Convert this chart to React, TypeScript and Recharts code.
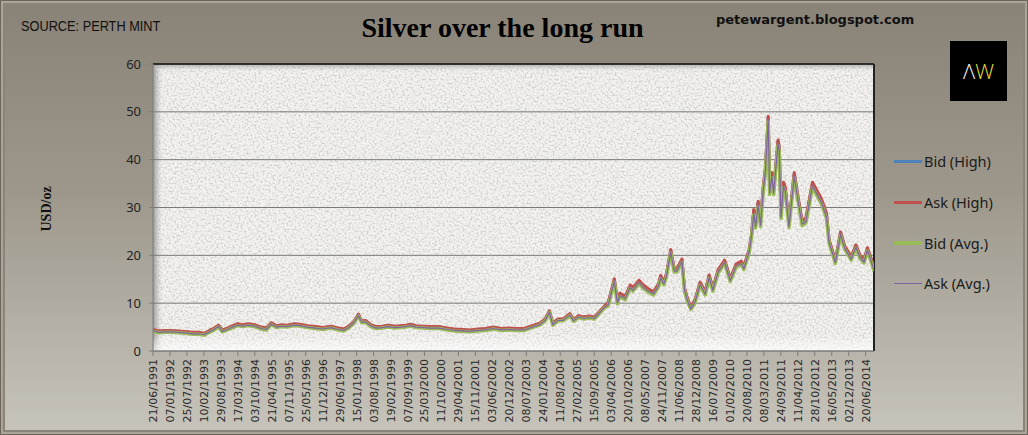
import React from 'react';
import { LineChart, Line, XAxis, YAxis, CartesianGrid, ReferenceLine } from 'recharts';

// observation dates (dd/mm/yyyy)
const dates = [
  '21/06/1991', '01/09/1991', '01/11/1991', '15/01/1992', '15/04/1992', '01/07/1992', '01/10/1992', '15/12/1992', '15/02/1993', '15/04/1993',
  '01/06/1993', '01/08/1993', '15/09/1993', '15/11/1993', '15/01/1994', '15/03/1994', '15/05/1994', '15/07/1994', '01/10/1994', '15/12/1994',
  '15/02/1995', '15/04/1995', '15/06/1995', '15/08/1995', '15/10/1995', '15/01/1996', '15/03/1996', '15/06/1996', '15/09/1996', '15/12/1996',
  '15/03/1997', '15/06/1997', '15/08/1997', '15/10/1997', '15/12/1997', '05/02/1998', '15/03/1998', '01/05/1998', '01/07/1998', '01/09/1998',
  '15/11/1998', '15/01/1999', '15/04/1999', '15/06/1999', '15/08/1999', '15/10/1999', '15/12/1999', '15/03/2000', '15/06/2000', '15/09/2000',
  '15/12/2000', '15/03/2001', '15/06/2001', '15/09/2001', '15/12/2001', '15/03/2002', '15/06/2002', '15/09/2002', '15/12/2002', '15/03/2003',
  '15/06/2003', '15/09/2003', '15/12/2003', '15/02/2004', '05/04/2004', '15/05/2004', '15/07/2004', '15/09/2004', '01/12/2004', '15/01/2005',
  '15/03/2005', '15/05/2005', '15/07/2005', '15/09/2005', '15/11/2005', '15/01/2006', '01/03/2006', '10/05/2006', '15/06/2006', '15/07/2006',
  '15/09/2006', '15/11/2006', '15/12/2006', '25/02/2007', '15/04/2007', '15/06/2007', '15/08/2007', '15/10/2007', '07/11/2007', '15/12/2007',
  '15/01/2008', '05/03/2008', '15/04/2008', '15/05/2008', '15/07/2008', '15/08/2008', '15/09/2008', '28/10/2008', '15/12/2008', '15/02/2009',
  '15/04/2009', '01/06/2009', '15/07/2009', '15/09/2009', '01/12/2009', '05/02/2010', '15/04/2010', '15/06/2010', '15/07/2010', '15/09/2010',
  '15/10/2010', '09/11/2010', '30/11/2010', '31/12/2010', '28/01/2011', '28/02/2011', '25/03/2011', '28/04/2011', '15/05/2011', '10/06/2011',
  '01/07/2011', '22/08/2011', '05/09/2011', '26/09/2011', '25/10/2011', '15/11/2011', '29/12/2011', '29/02/2012', '15/04/2012', '01/06/2012',
  '15/07/2012', '01/10/2012', '15/11/2012', '15/01/2013', '15/03/2013', '15/04/2013', '28/06/2013', '28/08/2013', '15/10/2013', '31/12/2013',
  '25/02/2014', '15/04/2014', '01/06/2014', '10/07/2014', '15/08/2014', '26/09/2014',
];

const bidHigh = [
  4.4, 4.1, 4.2, 4.2, 4.1, 4.0, 3.8, 3.8, 3.6, 4.2, 4.6, 5.3, 4.3, 4.7, 5.2, 5.6, 5.4, 5.6, 5.4, 4.9,
  4.7, 5.8, 5.2, 5.4, 5.3, 5.6, 5.5, 5.2, 5.0, 4.8, 5.1, 4.7, 4.5, 5.1, 6.1, 7.6, 6.2, 6.3, 5.4, 5.0,
  5.1, 5.3, 5.1, 5.2, 5.3, 5.5, 5.2, 5.1, 5.0, 5.0, 4.7, 4.5, 4.4, 4.3, 4.5, 4.6, 4.9, 4.6, 4.7, 4.6,
  4.6, 5.2, 5.7, 6.6, 8.3, 5.7, 6.6, 6.6, 7.7, 6.5, 7.3, 7.0, 7.2, 7.0, 8.1, 9.3, 10.0, 14.9, 10.4, 11.9,
  11.2, 13.6, 13.0, 14.6, 13.6, 12.8, 12.2, 13.9, 15.6, 14.3, 16.0, 21.0, 17.0, 17.0, 19.0, 13.0, 11.0, 9.0, 10.5, 14.2,
  12.2, 15.7, 13.0, 16.8, 18.8, 15.0, 18.0, 18.6, 17.5, 21.0, 24.5, 29.3, 26.5, 31.0, 26.8, 34.0, 37.8, 48.8, 33.5, 37.0,
  33.5, 43.8, 42.5, 28.5, 35.0, 34.0, 26.6, 37.0, 31.8, 27.0, 27.5, 35.0, 33.5, 31.5, 28.5, 23.0, 18.8, 24.7, 21.8, 19.5,
  22.0, 19.8, 18.9, 21.4, 19.6, 17.2,
];

const askHigh = [
  4.5, 4.2, 4.3, 4.3, 4.2, 4.1, 3.9, 3.9, 3.7, 4.3, 4.7, 5.4, 4.4, 4.8, 5.3, 5.7, 5.5, 5.7, 5.5, 5.0,
  4.8, 5.9, 5.3, 5.5, 5.4, 5.7, 5.6, 5.3, 5.1, 4.9, 5.2, 4.8, 4.6, 5.2, 6.2, 7.7, 6.3, 6.4, 5.5, 5.1,
  5.2, 5.4, 5.2, 5.3, 5.4, 5.6, 5.3, 5.2, 5.1, 5.1, 4.8, 4.6, 4.5, 4.4, 4.6, 4.7, 5.0, 4.7, 4.8, 4.7,
  4.7, 5.3, 5.8, 6.7, 8.4, 5.8, 6.7, 6.7, 7.8, 6.6, 7.4, 7.1, 7.3, 7.1, 8.2, 9.4, 10.2, 15.1, 10.6, 12.1,
  11.4, 13.8, 13.2, 14.8, 13.8, 13.0, 12.4, 14.1, 15.8, 14.5, 16.2, 21.2, 17.2, 17.2, 19.2, 13.2, 11.2, 9.1, 10.7, 14.4,
  12.4, 15.9, 13.2, 17.0, 19.0, 15.2, 18.2, 18.8, 17.7, 21.2, 24.7, 29.6, 26.8, 31.3, 27.1, 34.3, 38.1, 49.1, 33.8, 37.3,
  33.8, 44.1, 42.8, 28.8, 35.3, 34.3, 26.9, 37.3, 32.1, 27.3, 27.8, 35.3, 33.8, 31.8, 28.8, 23.2, 19.0, 24.9, 22.0, 19.7,
  22.2, 20.0, 19.1, 21.6, 19.8, 17.4,
];

const bidAvg = [
  4.1, 3.8, 3.9, 3.9, 3.8, 3.7, 3.5, 3.5, 3.3, 3.9, 4.3, 5.0, 4.0, 4.4, 4.9, 5.3, 5.1, 5.3, 5.1, 4.6,
  4.4, 5.5, 4.9, 5.1, 5.0, 5.3, 5.2, 4.9, 4.7, 4.5, 4.8, 4.4, 4.2, 4.8, 5.8, 7.3, 5.9, 6.0, 5.1, 4.7,
  4.8, 5.0, 4.8, 4.9, 5.0, 5.2, 4.9, 4.8, 4.7, 4.7, 4.4, 4.2, 4.1, 4.0, 4.2, 4.3, 4.6, 4.3, 4.4, 4.3,
  4.3, 4.9, 5.4, 6.3, 8.0, 5.4, 6.3, 6.3, 7.4, 6.2, 7.0, 6.7, 6.9, 6.7, 7.8, 9.0, 9.5, 14.4, 9.9, 11.4,
  10.7, 13.1, 12.5, 14.1, 13.1, 12.3, 11.7, 13.4, 15.1, 13.8, 15.5, 20.5, 16.5, 16.5, 18.5, 12.5, 10.5, 8.7, 10.0, 13.7,
  11.7, 15.2, 12.5, 16.3, 18.3, 14.5, 17.5, 18.1, 17.0, 20.5, 24.0, 28.5, 25.7, 30.2, 26.0, 33.2, 37.0, 48.0, 32.7, 36.2,
  32.7, 43.0, 41.7, 27.7, 34.2, 33.2, 25.8, 36.2, 31.0, 26.2, 26.7, 34.2, 32.7, 30.7, 27.7, 22.5, 18.3, 24.2, 21.3, 19.0,
  21.5, 19.3, 18.4, 20.9, 19.1, 16.7,
];

const askAvg = [
  4.2, 3.9, 4.0, 4.0, 3.9, 3.8, 3.6, 3.6, 3.4, 4.0, 4.4, 5.1, 4.1, 4.5, 5.0, 5.4, 5.2, 5.4, 5.2, 4.7,
  4.5, 5.6, 5.0, 5.2, 5.1, 5.4, 5.3, 5.0, 4.8, 4.6, 4.9, 4.5, 4.3, 4.9, 5.9, 7.4, 6.0, 6.1, 5.2, 4.8,
  4.9, 5.1, 4.9, 5.0, 5.1, 5.3, 5.0, 4.9, 4.8, 4.8, 4.5, 4.3, 4.2, 4.1, 4.3, 4.4, 4.7, 4.4, 4.5, 4.4,
  4.4, 5.0, 5.5, 6.4, 8.1, 5.5, 6.4, 6.4, 7.5, 6.3, 7.1, 6.8, 7.0, 6.8, 7.9, 9.1, 9.7, 14.6, 10.1, 11.6,
  10.9, 13.3, 12.7, 14.3, 13.3, 12.5, 11.9, 13.6, 15.3, 14.0, 15.7, 20.7, 16.7, 16.7, 18.7, 12.7, 10.7, 8.8, 10.2, 13.9,
  11.9, 15.4, 12.7, 16.5, 18.5, 14.7, 17.7, 18.3, 17.2, 20.7, 24.2, 28.8, 26.0, 30.5, 26.3, 33.5, 37.3, 48.3, 33.0, 36.5,
  33.0, 43.3, 42.0, 28.0, 34.5, 33.5, 26.1, 36.5, 31.3, 26.5, 27.0, 34.5, 33.0, 31.0, 28.0, 22.7, 18.5, 24.4, 21.5, 19.2,
  21.7, 19.5, 18.6, 21.1, 19.3, 16.9,
];

const tickLabels = [
  '21/06/1991', '07/01/1992', '25/07/1992', '10/02/1993', '29/08/1993', '17/03/1994', '03/10/1994', '21/04/1995',
  '07/11/1995', '25/05/1996', '11/12/1996', '29/06/1997', '15/01/1998', '03/08/1998', '19/02/1999', '07/09/1999',
  '25/03/2000', '11/10/2000', '29/04/2001', '15/11/2001', '03/06/2002', '20/12/2002', '08/07/2003', '24/01/2004',
  '11/08/2004', '27/02/2005', '15/09/2005', '03/04/2006', '20/10/2006', '08/05/2007', '24/11/2007', '11/06/2008',
  '28/12/2008', '16/07/2009', '01/02/2010', '20/08/2010', '08/03/2011', '24/09/2011', '11/04/2012', '28/10/2012',
  '16/05/2013', '02/12/2013', '20/06/2014',
];

const yTicks = [0, 10, 20, 30, 40, 50, 60];

const SERIES = [
  { key: 'bidHigh', name: 'Bid (High)', color: '#4f81bd', width: 3 },
  { key: 'askHigh', name: 'Ask (High)', color: '#c0504d', width: 3 },
  { key: 'bidAvg', name: 'Bid (Avg.)', color: '#9bbb59', width: 3.5 },
  { key: 'askAvg', name: 'Ask (Avg.)', color: '#8064a2', width: 1.2 },
];

const toTime = (s: string) => {
  const [d, m, y] = s.split('/').map(Number);
  return Date.UTC(y, m - 1, d);
};
const pad = (n: number) => (n < 10 ? '0' + n : '' + n);
const fmtDate = (t: number) => {
  const d = new Date(t);
  return `${pad(d.getUTCDate())}/${pad(d.getUTCMonth() + 1)}/${d.getUTCFullYear()}`;
};

const data = dates.map((d, i) => ({
  t: toTime(d),
  bidHigh: bidHigh[i],
  askHigh: askHigh[i],
  bidAvg: bidAvg[i],
  askAvg: askAvg[i],
}));

const xTicks = tickLabels.map(toTime);
const xDomain = [toTime(dates[0]), toTime(dates[dates.length - 1])];

const DateTick = (props: any) => {
  const { x, y, payload } = props;
  return (
    <g transform={`translate(${x},${y})`}>
      <text
        transform="rotate(-90)"
        x={-1}
        y={0}
        dy={4}
        textAnchor="end"
        fill="#2a2a2a"
        fontSize={11}
        fontFamily="'DejaVu Sans', Verdana, sans-serif"
      >
        {fmtDate(payload.value)}
      </text>
    </g>
  );
};

const SilverChart = () => {
  return (
    <div
      style={{
        position: 'absolute',
        left: 0,
        top: 0,
        width: 1028,
        height: 435,
        boxSizing: 'border-box',
        border: '1px solid #6c665c',
        boxShadow: 'inset 0 0 0 2px #a9a398, inset 0 0 0 4px #8b8478',
        background: 'linear-gradient(180deg, #898276 0%, #9e988c 45%, #c7c4bb 100%)',
        overflow: 'hidden',
      }}
    >
      <div
        style={{
          position: 'absolute', left: 20, top: 16, fontSize: 15, color: '#111',
          fontFamily: "'Liberation Sans', Arial, sans-serif",
          transform: 'scaleX(0.85)', transformOrigin: 'left top', whiteSpace: 'nowrap',
        }}
      >
        SOURCE: PERTH MINT
      </div>
      <div
        style={{
          position: 'absolute', left: 0, width: 1003, top: 11, textAlign: 'center',
          fontSize: 28, fontWeight: 'bold', color: '#000',
          fontFamily: "'Liberation Serif', 'Times New Roman', serif",
        }}
      >
        Silver over the long run
      </div>
      <div
        style={{
          position: 'absolute', left: 715, top: 11, fontSize: 13, fontWeight: 'bold', color: '#111',
          fontFamily: "'DejaVu Sans', Verdana, sans-serif",
        }}
      >
        petewargent.blogspot.com
      </div>
      <div
        style={{
          position: 'absolute', left: 949, top: 40, width: 57, height: 60, background: '#000',
          display: 'flex', alignItems: 'center', justifyContent: 'center',
          fontSize: 21, fontFamily: "'Open Sans', 'Noto Sans', sans-serif", fontWeight: 300,
        }}
      >
        <span style={{ color: '#f4f4f4' }}>Λ</span>
        <span style={{ color: '#e3df3e' }}>W</span>
      </div>

      <LineChart
        width={1028}
        height={435}
        data={data}
        margin={{ top: 63, right: 155, bottom: 0, left: 122 }}
        style={{ position: 'absolute', left: 0, top: 0 }}
      >
        <defs>
          <filter id="speckle" x="0" y="0" width="100%" height="100%">
            <feTurbulence type="fractalNoise" baseFrequency="0.5" numOctaves="2" seed="7" result="noise" />
            <feColorMatrix
              in="noise"
              type="matrix"
              values="0 0 0 0 0.6  0 0 0 0 0.6  0 0 0 0 0.58  3.4 0 0 0 -1.5"
            />
          </filter>
          <linearGradient id="bevelLeft" x1="0" y1="0" x2="1" y2="0">
            <stop offset="0%" stopColor="#8f8f8f" stopOpacity={0.9} />
            <stop offset="100%" stopColor="#bdbdbd" stopOpacity={0} />
          </linearGradient>
          <linearGradient id="bevelTop" x1="0" y1="0" x2="0" y2="1">
            <stop offset="0%" stopColor="#9a9a9a" stopOpacity={0.8} />
            <stop offset="100%" stopColor="#c8c8c8" stopOpacity={0} />
          </linearGradient>
          <linearGradient id="floor" x1="0" y1="0" x2="0" y2="1">
            <stop offset="0%" stopColor="#ffffff" stopOpacity={0} />
            <stop offset="100%" stopColor="#ffffff" stopOpacity={0.7} />
          </linearGradient>
          <pattern id="plotTexture" patternUnits="userSpaceOnUse" x="0" y="0" width="1028" height="435">
            <rect x="0" y="0" width="1028" height="435" fill="#f4f3f1" />
            <rect x="0" y="0" width="1028" height="435" fill="#fff" filter="url(#speckle)" opacity="0.85" />
            <rect x="152" y="63" width="9" height="287" fill="url(#bevelLeft)" />
            <rect x="152" y="63" width="721" height="7" fill="url(#bevelTop)" />
            <rect x="152" y="334" width="721" height="16" fill="url(#floor)" />
          </pattern>
        </defs>
        <CartesianGrid vertical={false} stroke="#7a7a7a" fill="url(#plotTexture)" fillOpacity={1} />
        <XAxis
          dataKey="t"
          type="number"
          scale="time"
          domain={xDomain}
          ticks={xTicks}
          interval={0}
          height={85}
          tick={<DateTick />}
          tickSize={5}
          tickMargin={2}
          stroke="#7d7d7d"
          allowDataOverflow
        />
        <YAxis
          domain={[0, 60]}
          ticks={yTicks}
          width={30}
          tickSize={4}
          tickMargin={8}
          stroke="#7d7d7d"
          tick={{ fill: '#222', fontSize: 13, fontFamily: "'Noto Sans', 'Open Sans', sans-serif" }}
          label={{
            value: 'USD/oz',
            angle: -90,
            position: 'insideLeft',
            dx: -82,
            dy: 24,
            style: { fontFamily: "'Liberation Serif', 'Times New Roman', serif", fontWeight: 'bold', fontSize: 14, fill: '#111' },
          }}
        />
        <ReferenceLine y={60} stroke="#111" strokeWidth={1.5} />
        <ReferenceLine x={xDomain[1]} stroke="#222" strokeWidth={2} />
        {SERIES.map((s) => (
          <Line
            key={s.key}
            type="linear"
            dataKey={s.key}
            name={s.name}
            stroke={s.color}
            strokeWidth={s.width}
            strokeLinejoin="round"
            dot={false}
            activeDot={false}
            isAnimationActive={false}
          />
        ))}
      </LineChart>

      <div style={{ position: 'absolute', left: 893, top: 140 }}>
        {SERIES.map((s) => (
          <div key={s.key} style={{ display: 'flex', alignItems: 'center', height: 40.7 }}>
            <div style={{ width: 28, height: Math.round(s.width), background: s.color, marginRight: 2 }} />
            <span
              style={{
                fontSize: 14.5, color: '#1b1b1b',
                fontFamily: "'Noto Sans', 'Open Sans', sans-serif",
              }}
            >
              {s.name}
            </span>
          </div>
        ))}
      </div>
    </div>
  );
};

export default function App() {
  return <SilverChart />;
}
